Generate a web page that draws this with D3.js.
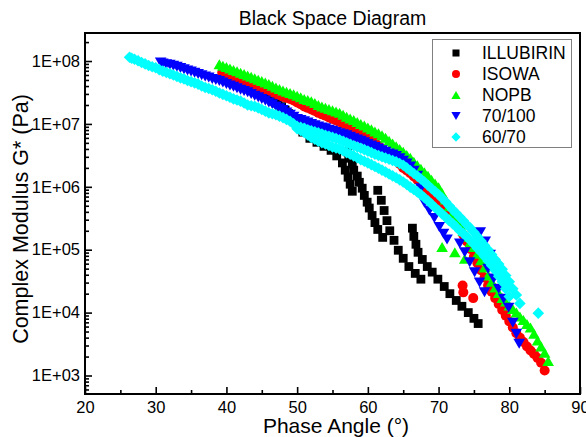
<!DOCTYPE html>
<html><head><meta charset="utf-8">
<script src="https://cdn.jsdelivr.net/npm/d3@7"></script>
<style>body{margin:0;background:#fff}svg{display:block;font-family:Arial,"Liberation Sans",sans-serif}</style>
</head><body><svg id="c" width="586" height="437"></svg>
<script>
// ---------------- DATA (phase angle in degrees, |G*| in Pa) ----------------
const seriesNames = ["ILLUBIRIN", "ISOWA", "NOPB", "70/100", "60/70"];

const illubirin = [
  [40.4,5.0e7],[40.9,4.75e7],[41.4,4.5e7],[41.9,4.25e7],[42.4,4.0e7],[42.85,3.8e7],[43.3,3.6e7],[43.8,3.4e7],[44.3,3.2e7],[44.8,3.05e7],
  [45.3,2.9e7],[45.8,2.7e7],[46.3,2.5e7],[46.8,2.3e7],[47.3,2.1e7],[47.8,1.88e7],[48.3,1.66e7],[48.8,1.46e7],[49.3,1.28e7],[49.8,1.11e7],[50.3,9.6e6],
  [50.8,7.4e6],[51.8,5.9e6],[52.8,5.1e6],[53.8,4.4e6],[54.8,3.8e6],[55.6,3.1e6],[56.4,2.4e6],[56.8,1.84e6],[57.2,1.42e6],[57.5,1.1e6],[57.8,8.5e5],
  [57.1,3.6e6],[57.3,2.85e6],[57.8,2.3e6],[58.0,1.84e6],[58.5,1.48e6],[58.8,1.18e6],[59.2,9.5e5],[59.5,7.3e5],[59.9,5.7e5],[60.2,4.6e5],[60.6,3.5e5],[61.0,2.7e5],[61.4,2.1e5],[62.1,1.57e5],
  [61.4,8.8e5],[61.9,6.1e5],[62.3,4.2e5],[62.7,2.9e5],[63.1,2.0e5],[63.7,1.41e5],[64.3,9.8e4],[65.0,7.3e4],[65.8,5.4e4],[66.7,4.2e4],[67.5,3.4e4],
  [66.3,2.2e5],[66.5,1.63e5],[66.8,1.22e5],[67.1,9.1e4],[67.7,7.0e4],[68.4,5.4e4],[69.1,4.4e4],[69.9,3.4e4],[70.8,2.6e4],[71.6,2.0e4],[72.5,1.56e4],[73.3,1.26e4],[74.2,1.0e4],[75.0,8.1e3],[75.6,6.7e3]
];

const isowa = [
  [39.4,6.5e7],[40,6.0e7],[40.5,5.75e7],[41,5.5e7],[41.5,5.2e7],[42,4.9e7],[42.5,4.7e7],[43,4.5e7],[43.5,4.3e7],[44,4.1e7],[44.5,3.9e7],[45,3.7e7],
  [45.5,3.55e7],[46,3.4e7],[46.5,3.2e7],[47,3.0e7],[47.5,2.85e7],[48,2.7e7],[48.5,2.6e7],[49,2.5e7],[49.5,2.35e7],[50,2.2e7],[50.5,2.05e7],
  [51,1.9e7],[51.5,1.8e7],[52,1.7e7],[52.5,1.6e7],[53,1.5e7],[53.5,1.42e7],[54,1.35e7],[54.5,1.27e7],[55,1.2e7],[55.5,1.13e7],[56,1.07e7],
  [56.5,1.0e7],[57,9.4e6],[57.5,8.7e6],[58,8.1e6],[58.5,7.6e6],[59,7.1e6],[59.5,6.5e6],[60,6.0e6],[60.5,5.5e6],[61,5.1e6],[61.5,4.5e6],[62,4.0e6],
  [62.5,3.6e6],[63,3.2e6],[63.5,2.9e6],[64,2.6e6],[64.5,2.3e6],[65,2.0e6],[65.5,1.82e6],[66,1.65e6],[66.5,1.46e6],[67,1.3e6],[67.5,1.14e6],
  [68,1.0e6],[68.5,8.9e5],[69,7.9e5],[69.5,7.0e5],[70,6.2e5],[70.5,5.3e5],[71,4.6e5],[71.5,3.8e5],[72,3.2e5],[72.5,2.65e5],[73,2.2e5],[73.5,1.72e5],[74,1.35e5],
  [74.5,1.03e5],[75,7.8e4],[75.5,6.1e4],[76,4.7e4],[76.5,3.6e4],[77,2.7e4],[77.5,2.15e4],[78,1.7e4],[78.5,1.37e4],[79,1.1e4],[79.5,8.9e3],[80,7.2e3],
  [80.5,5.8e3],[81,4.7e3],[81.5,4.0e3],[82,3.4e3],[82.5,2.9e3],[83,2.5e3],[83.5,2.2e3],[84,1.9e3],[84.5,1.6e3],[85.0,1.2e3],
  [73.4,2.7e4],[73.5,2.1e4],[74.9,1.7e4]
];

const nopb = [
  [39,8.9e7],[39.5,8.45e7],[40,8.0e7],[40.5,7.6e7],[41,7.2e7],[41.5,6.85e7],[42,6.5e7],[42.5,6.2e7],[43,5.9e7],[43.5,5.6e7],[44,5.3e7],[44.5,5.05e7],
  [45,4.8e7],[45.5,4.55e7],[46,4.3e7],[46.5,4.05e7],[47,3.8e7],[47.5,3.6e7],[48,3.4e7],[48.5,3.25e7],[49,3.1e7],[49.5,2.95e7],[50,2.8e7],[50.5,2.65e7],
  [51,2.5e7],[51.5,2.4e7],[52,2.3e7],[52.5,2.15e7],[53,2.0e7],[53.5,1.9e7],[54,1.8e7],[54.5,1.72e7],[55,1.65e7],[55.5,1.57e7],[56,1.5e7],[56.5,1.4e7],
  [57,1.3e7],[57.5,1.22e7],[58,1.15e7],[58.5,1.07e7],[59,1.0e7],[59.5,9.4e6],[60,8.8e6],[60.5,8.2e6],[61,7.6e6],[61.5,7.1e6],[62,6.6e6],[62.5,6.0e6],
  [63,5.4e6],[63.5,4.9e6],[64,4.4e6],[64.5,4.0e6],[65,3.6e6],[65.5,3.2e6],[66,2.9e6],[66.5,2.5e6],[67,2.2e6],[67.5,1.93e6],[68,1.7e6],[68.5,1.5e6],
  [69,1.3e6],[69.5,1.13e6],[70,9.8e5],[70.5,7.9e5],[71,6.3e5],[71.5,4.9e5],[72,3.8e5],[72.5,3.1e5],[73,2.5e5],[73.5,2.0e5],[74,1.6e5],[74.5,1.33e5],
  [75,1.1e5],[75.5,8.6e4],[76,6.8e4],[76.5,5.2e4],[77,3.9e4],[77.5,3.1e4],[78,2.5e4],[78.5,2.05e4],[79,1.7e4],[79.5,1.5e4],[80,1.3e4],[80.5,1.14e4],
  [81,1.0e4],[81.5,8.7e3],[82,7.6e3],[82.5,6.6e3],[83,5.8e3],[83.5,4.6e3],[84,3.6e3],[84.5,2.9e3],[85,2.3e3],[85.5,1.7e3],
  [70.5,1.1e5],[72.3,9.1e4],[73.7,7.2e4]
];

const pen70100 = [
  [30.7,9.5e7],[31,9.1e7],[31.5,8.9e7],[32,8.7e7],[32.5,8.4e7],[33,8.1e7],[33.5,7.75e7],[34,7.4e7],[34.5,7.1e7],[35,6.8e7],[35.5,6.5e7],[36,6.2e7],
  [36.5,5.95e7],[37,5.7e7],[37.5,5.45e7],[38,5.2e7],[38.5,5.0e7],[39,4.8e7],[39.5,4.55e7],[40,4.3e7],[40.5,4.1e7],[41,3.9e7],[41.5,3.7e7],
  [42,3.5e7],[42.5,3.35e7],[43,3.2e7],[43.5,3.0e7],[44,2.8e7],[44.5,2.65e7],[45,2.5e7],[45.5,2.35e7],[46,2.2e7],[46.5,2.05e7],[47,1.9e7],
  [47.5,1.78e7],[48,1.66e7],[48.5,1.52e7],[49,1.4e7],[49.5,1.3e7],[50,1.2e7],[50.5,1.15e7],[51,1.1e7],[51.5,1.05e7],[52,1.0e7],[52.5,9.5e6],
  [53,9.1e6],[53.5,8.8e6],[54,8.5e6],[54.5,8.1e6],[55,7.8e6],[55.5,7.45e6],[56,7.1e6],[56.5,6.85e6],[57,6.6e6],[57.5,6.25e6],[58,5.9e6],
  [58.5,5.65e6],[59,5.4e6],[59.5,5.1e6],[60,4.8e6],[60.5,4.55e6],[61,4.3e6],[61.5,4.05e6],[62,3.8e6],[62.5,3.6e6],[63,3.4e6],[63.5,3.25e6],
  [64,3.1e6],[64.5,2.85e6],[65,2.6e6],[65.5,2.35e6],[66,2.1e6],[66.5,1.8e6],[67,1.5e6],[67.5,9.5e5],
  [68,5.6e5],[68.7,4.2e5],[69.4,3.2e5],[70.1,2.3e5],[70.7,1.8e5],[71.2,1.45e5],
  [73.0,1.26e5],[73.7,9.1e4],[74.4,6.3e4],[75.1,4.4e4],[75.8,3.0e4],[76.5,2.1e4],
  [75.9,1.9e5],[76.6,1.35e5],[77.3,8.3e4],[77.0,5.0e4],[77.8,3.5e4],[78.5,2.4e4],[79.2,1.66e4],[79.9,1.2e4],[80.5,6.9e3],[81.0,4.6e3],[81.4,3.2e3]
];

const pen6070 = [
  [26.3,1.15e8],[26.6,1.11e8],[27,1.07e8],[27.5,1.01e8],[28,9.5e7],[28.5,9.0e7],[29,8.5e7],[29.5,8.1e7],[30,7.8e7],[30.5,7.3e7],[31,6.9e7],
  [31.5,6.6e7],[32,6.3e7],[32.5,6.0e7],[33,5.7e7],[33.5,5.4e7],[34,5.2e7],[34.5,4.9e7],[35,4.7e7],[35.5,4.5e7],[36,4.3e7],[36.5,4.0e7],
  [37,3.8e7],[37.5,3.65e7],[38,3.5e7],[38.5,3.3e7],[39,3.1e7],[39.5,2.95e7],[40,2.8e7],[40.5,2.65e7],[41,2.5e7],[41.5,2.4e7],[42,2.3e7],
  [42.5,2.15e7],[43,2.0e7],[43.5,1.95e7],[44,1.9e7],[44.5,1.8e7],[45,1.7e7],[45.5,1.6e7],[46,1.5e7],[46.5,1.45e7],[47,1.4e7],[47.5,1.33e7],
  [48,1.26e7],[48.5,1.18e7],[49,1.1e7],[49.5,1.0e7],
  [50,9.2e6],[50.5,8.85e6],[51,8.5e6],[51.5,8.1e6],[52,7.8e6],[52.5,7.5e6],[53,7.2e6],[53.5,6.9e6],[54,6.6e6],[54.5,6.35e6],[55,6.1e6],
  [55.5,5.85e6],[56,5.6e6],[56.5,5.3e6],[57,5.0e6],[57.5,4.75e6],[58,4.5e6],[58.5,4.3e6],[59,4.1e6],[59.5,3.9e6],[60,3.7e6],[60.5,3.5e6],
  [61,3.3e6],[61.5,3.15e6],[62,3.0e6],[62.5,2.87e6],[63,2.75e6],[63.5,2.62e6],[64,2.5e6],[64.5,2.35e6],[65,2.2e6],[65.5,2.0e6],[66,1.8e6],
  [66.5,1.63e6],[67,1.48e6],[67.5,1.33e6],[68,1.19e6],[68.5,1.06e6],[69,9.4e5],[69.5,8.4e5],[70,7.5e5],[70.5,6.6e5],[71,5.8e5],[71.5,5.0e5],
  [72,4.3e5],[72.5,3.8e5],[73,3.3e5],[73.5,2.9e5],[74,2.5e5],[74.5,2.2e5],[75,1.9e5],[75.5,1.62e5],[76,1.38e5],[76.5,1.17e5],[77,1.0e5],
  [77.5,8.4e4],[78,7.0e4],[78.5,5.9e4],[79,4.9e4],[79.5,3.9e4],[80,3.1e4],[80.5,2.4e4],[81,1.9e4],[81.5,1.4e4],
  [50,8.4e6],[50.5,7.9e6],[51,7.3e6],[51.5,6.7e6],[52,6.1e6],[52.5,5.7e6],[53,5.3e6],[53.5,5.05e6],[54,4.8e6],[54.5,4.55e6],[55,4.3e6],
  [55.5,4.15e6],[56,4.0e6],[56.5,3.75e6],[57,3.5e6],[57.5,3.3e6],[58,3.1e6],[58.5,2.9e6],[59,2.7e6],[59.5,2.55e6],[60,2.4e6],[60.5,2.25e6],
  [61,2.1e6],[61.5,1.97e6],[62,1.84e6],[62.5,1.72e6],[63,1.6e6],[63.5,1.49e6],[64,1.39e6],[64.5,1.29e6],[65,1.19e6],[65.5,1.09e6],[66,9.9e5],
  [66.5,9.1e5],[67,8.3e5],[67.5,7.5e5],[68,6.7e5],[68.5,6.0e5],[69,5.3e5],[69.5,4.7e5],[70,4.2e5],[70.5,3.7e5],[71,3.3e5],[71.5,2.9e5],
  [72,2.6e5],[72.5,2.3e5],[73,2.0e5],[73.5,1.8e5],[74,1.6e5],[74.5,1.4e5],[75,1.22e5],[75.5,1.05e5],[76,9.1e4],[76.5,7.8e4],[77,6.6e4],
  [77.5,5.6e4],[78,4.7e4],[78.5,3.8e4],[79,3.1e4],[79.5,2.4e4],[80,1.8e4],
  [84.1,9.8e3]
];

const xTicks = [20, 30, 40, 50, 60, 70, 80, 90];
const xMinorTicks = [25, 35, 45, 55, 65, 75, 85];
const yTicks = [1e3, 1e4, 1e5, 1e6, 1e7, 1e8];
const yTickLabels = ["1E+03", "1E+04", "1E+05", "1E+06", "1E+07", "1E+08"];
const colors = ["#000000", "#ff0000", "#00ff00", "#0000ff", "#00ffff"];
const allSeries = [illubirin, isowa, nopb, pen70100, pen6070];

// ---------------- LAYOUT ----------------
const L = 85, R = 580, T = 33, B = 394;
const svg = d3.select("#c");
const x = d3.scaleLinear().domain([20, 90]).range([L, R]);
const y = d3.scaleLog().domain([508, 2.79e8]).range([B, T]);

const yMinor = [];
for (let e = 2; e <= 8; e++) for (let m = 2; m <= 9; m++) {
  const v = m * Math.pow(10, e);
  if (v >= y.domain()[0] && v <= y.domain()[1]) yMinor.push(v);
}

const shapes = [
  "M-4.4,-4.4h8.8v8.8h-8.8z",
  d3.symbol(d3.symbolCircle, Math.PI * 5 * 5)(),
  "M0,-5L5.8,5L-5.8,5Z",
  "M0,5L5.8,-5L-5.8,-5Z",
  "M0,-5.8L5.8,0L0,5.8L-5.8,0Z"
];

// markers
const plot = svg.append("g");
allSeries.forEach((data, i) => {
  plot.append("g").selectAll("path").data(data).join("path")
    .attr("d", shapes[i])
    .attr("fill", colors[i])
    .attr("transform", d => `translate(${x(d[0])},${y(d[1])})`);
});

// axes
const tickFont = "16.5px";
const xAxis = svg.append("g").attr("transform", `translate(0,${B})`)
  .call(d3.axisBottom(x).tickValues(xTicks).tickSize(-7).tickPadding(7).tickFormat(d3.format("d")));
const xAxisMinor = svg.append("g").attr("transform", `translate(0,${B})`)
  .call(d3.axisBottom(x).tickValues(xMinorTicks).tickSize(-4).tickFormat(""));
const yAxis = svg.append("g").attr("transform", `translate(${L},0)`)
  .call(d3.axisLeft(y).tickValues(yTicks).tickSize(-7).tickPadding(5).tickFormat((d, i) => yTickLabels[i]));
const yAxisMinor = svg.append("g").attr("transform", `translate(${L},0)`)
  .call(d3.axisLeft(y).tickValues(yMinor).tickSize(-4).tickFormat(""));

[xAxis, xAxisMinor, yAxis, yAxisMinor].forEach(g => {
  g.select(".domain").remove();
  g.selectAll("line").attr("stroke", "#000").attr("stroke-width", 1.6);
  g.selectAll("text").attr("font-size", tickFont).attr("fill", "#000")
    .attr("font-family", "Arial, 'Liberation Sans', sans-serif");
});

// frame
svg.append("rect").attr("x", L).attr("y", T).attr("width", R - L).attr("height", B - T)
  .attr("fill", "none").attr("stroke", "#000").attr("stroke-width", 2);

// title and axis titles
svg.append("text").attr("x", (L + R) / 2).attr("y", 25).attr("text-anchor", "middle")
  .attr("font-size", "19.5px").text("Black Space Diagram");
svg.append("text").attr("x", 336).attr("y", 433).attr("text-anchor", "middle")
  .attr("font-size", "21px").text("Phase Angle (°)");
svg.append("text").attr("transform", `translate(28,219) rotate(-90)`).attr("text-anchor", "middle")
  .attr("font-size", "21.5px").text("Complex Modulus G* (Pa)");

// legend
const lg = svg.append("g");
lg.append("rect").attr("x", 432.5).attr("y", 39.5).attr("width", 139).attr("height", 108)
  .attr("fill", "#fff").attr("stroke", "#808080").attr("stroke-width", 1);
seriesNames.forEach((name, i) => {
  const cy = 53 + i * 21;
  lg.append("path").attr("d", shapes[i]).attr("fill", colors[i])
    .attr("transform", `translate(456,${cy}) scale(0.8)`);
  lg.append("text").attr("x", 482).attr("y", cy + 6).attr("font-size", "17.5px").text(name);
});
</script>
</body></html>
